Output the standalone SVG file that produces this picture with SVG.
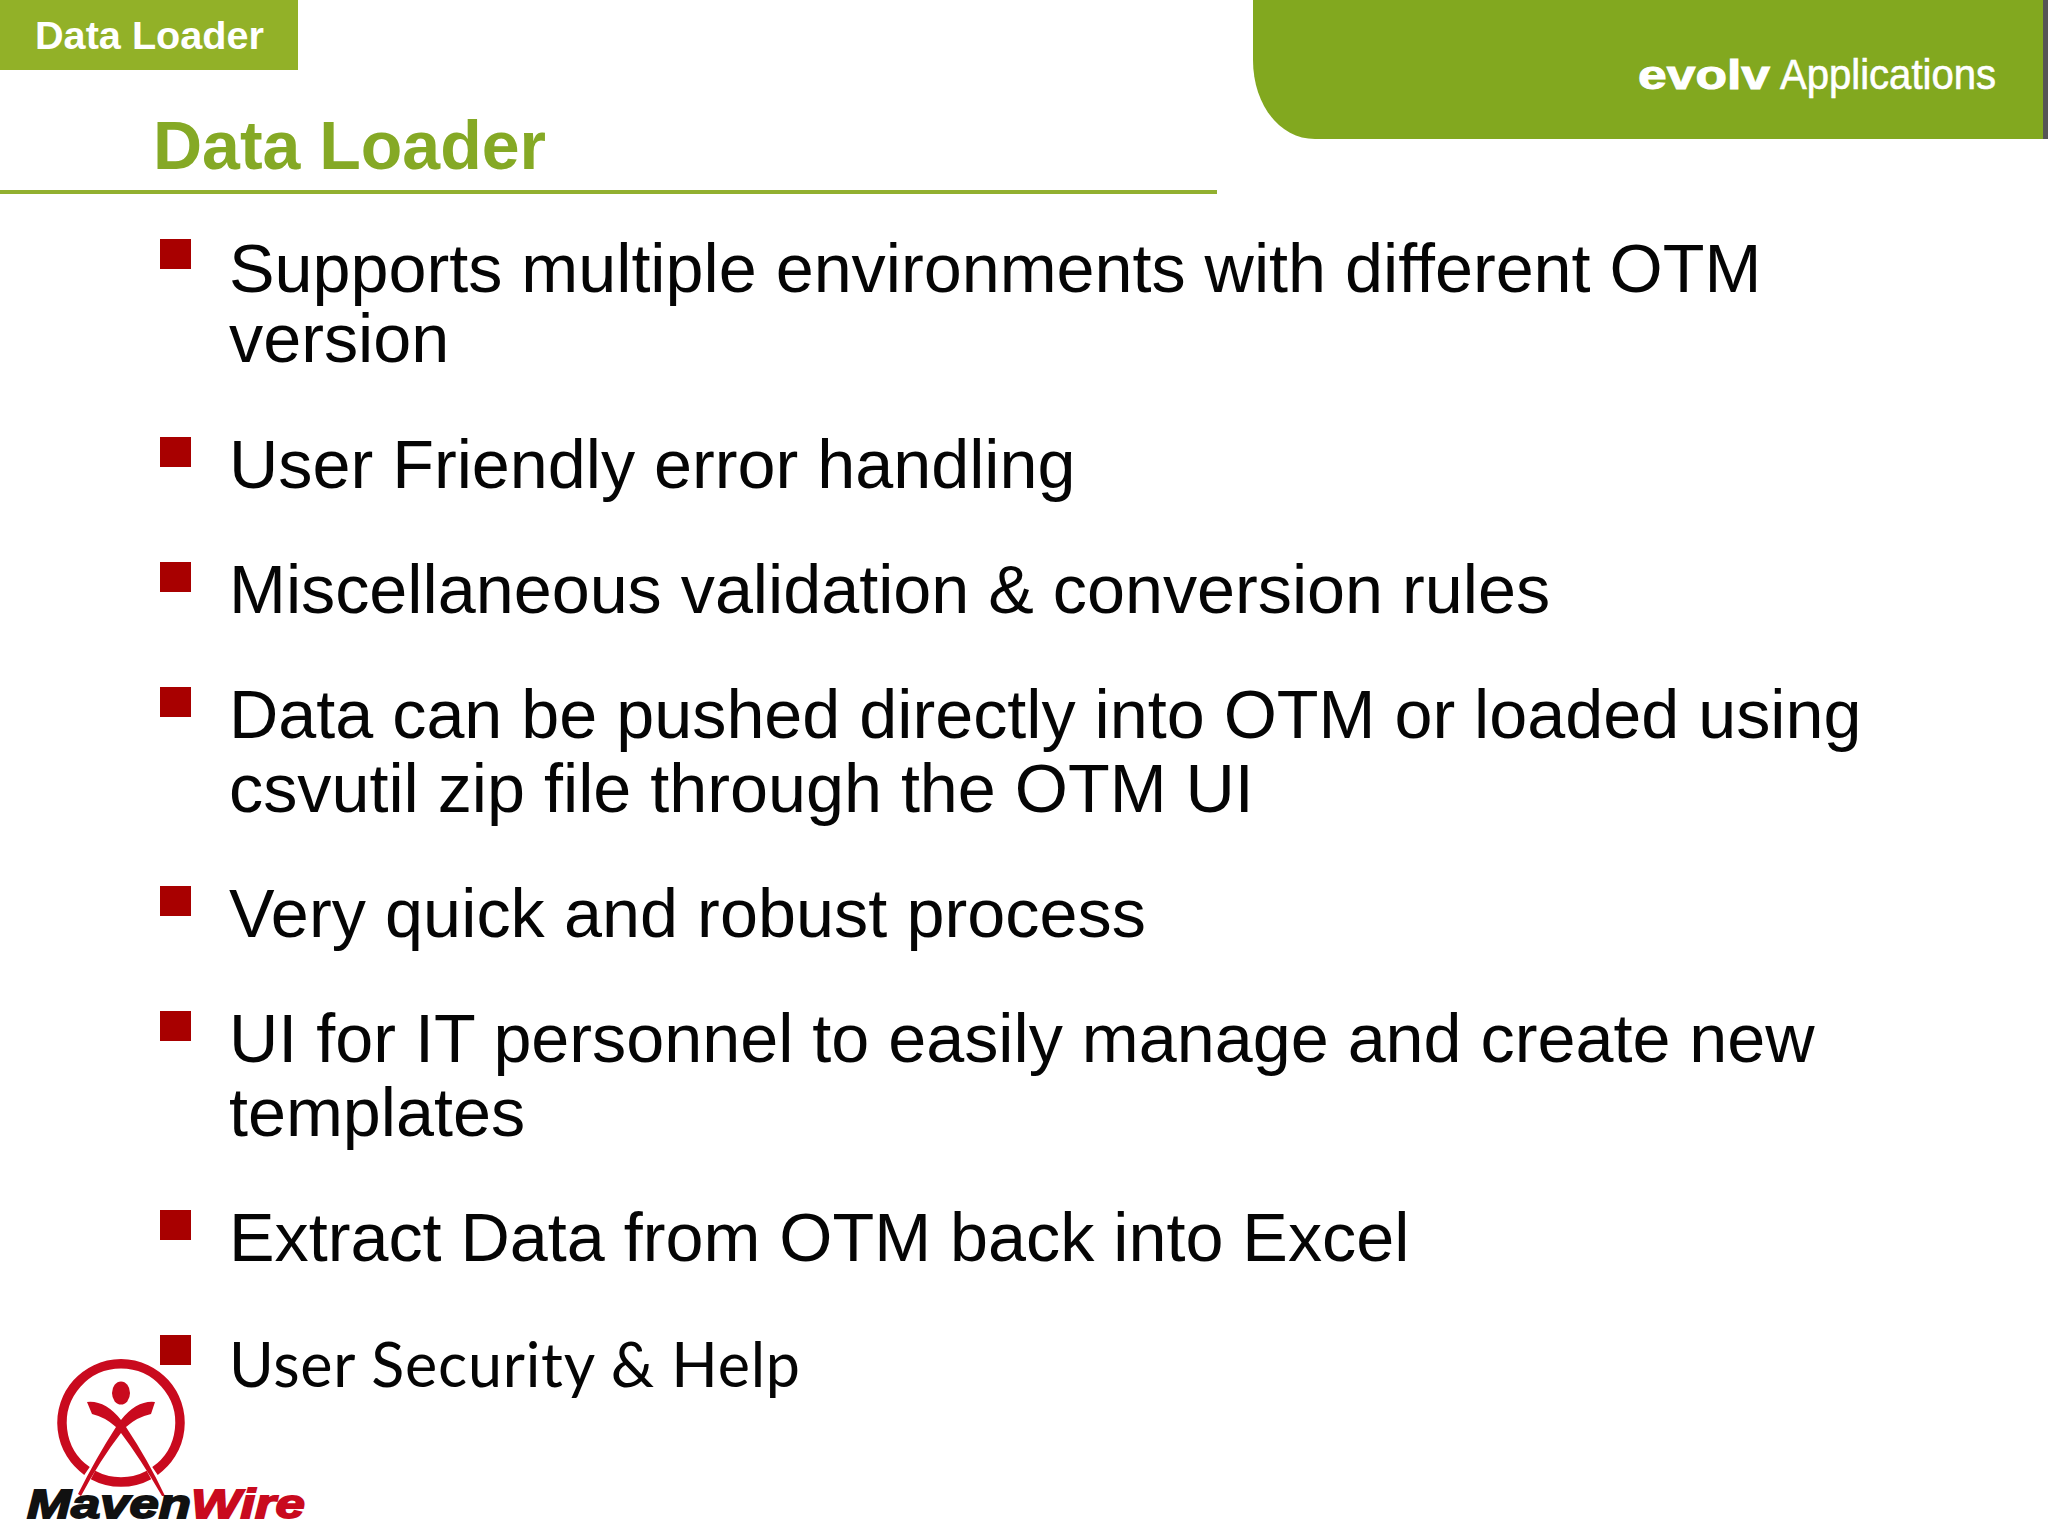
<svg xmlns="http://www.w3.org/2000/svg" width="2048" height="1536" viewBox="0 0 2048 1536">
<style>
.b{font-family:"Liberation Sans",Arial,sans-serif;font-size:68.3px;fill:#050505}
.sq{fill:#a80000}
.r{fill:#c90a1e}
.lg{font-family:"Liberation Sans",Arial,sans-serif;font-weight:bold;font-style:italic;font-size:41px;stroke-width:1.8px}
</style>
<rect width="2048" height="1536" fill="#fff"/>
<g id="tab"><rect width="298" height="70" fill="#92b128"/>
<text x="35" y="49" font-family="'Liberation Sans',Arial,sans-serif" font-weight="bold" font-size="38" fill="#fff" textLength="229" lengthAdjust="spacingAndGlyphs">Data Loader</text></g>
<g id="banner"><path d="M1253 0H2043V139H1315C1280 139 1253 105 1253 60Z" fill="#82a81f"/>
<rect x="2043" width="5" height="139" fill="#555"/>
<text x="1638" y="89" font-family="'Liberation Sans',Arial,sans-serif" font-weight="bold" font-size="40" fill="#fff" stroke="#fff" stroke-width="1" textLength="132" lengthAdjust="spacingAndGlyphs">evolv</text>
<text x="1780" y="89" font-family="'Liberation Sans',Arial,sans-serif" font-size="42" fill="#fff" stroke="#fff" stroke-width=".6" textLength="216" lengthAdjust="spacingAndGlyphs">Applications</text></g>
<g id="title"><text x="153" y="169" font-family="'Liberation Sans',Arial,sans-serif" font-weight="bold" font-size="68" fill="#85a925">Data Loader</text>
<rect y="190" width="1217" height="4" fill="#92b030"/></g>
<g id="bullets">
<rect class="sq" x="160" y="239" width="31" height="30"/>
<text class="b" x="229" y="292">Supports multiple environments with different OTM</text>
<text class="b" x="229" y="362">version</text>
<rect class="sq" x="160" y="437" width="31" height="30"/>
<text class="b" x="229" y="488">User Friendly error handling</text>
<rect class="sq" x="160" y="562" width="31" height="30"/>
<text class="b" x="229" y="613">Miscellaneous validation &amp; conversion rules</text>
<rect class="sq" x="160" y="687" width="31" height="30"/>
<text class="b" x="229" y="738">Data can be pushed directly into OTM or loaded using</text>
<text class="b" x="229" y="812">csvutil zip file through the OTM UI</text>
<rect class="sq" x="160" y="886" width="31" height="30"/>
<text class="b" x="229" y="937" textLength="917">Very quick and robust process</text>
<rect class="sq" x="160" y="1011" width="31" height="30"/>
<text class="b" x="229" y="1062">UI for IT personnel to easily manage and create new</text>
<text class="b" x="229" y="1136">templates</text>
<rect class="sq" x="160" y="1210" width="31" height="30"/>
<text class="b" x="229" y="1261">Extract Data from OTM back into Excel</text>
<rect class="sq" x="160" y="1335" width="31" height="30"/>
<text x="229" y="1387" font-family="Lato,'Liberation Sans',sans-serif" font-size="61" fill="#050505" textLength="571">User Security &amp; Help</text>
</g>
<g id="logo">
<path d="M87 1471A59 59 0 1 1 155 1471" fill="none" stroke="#c90a1e" stroke-width="9.5"/>
<path d="M93 1475A59 59 0 0 0 149 1475" fill="none" stroke="#c90a1e" stroke-width="9.5"/>
<ellipse class="r" cx="121" cy="1393" rx="9" ry="11.5"/>
<path class="r" d="M87 1402Q105 1400 121 1420Q137 1400 155 1402L151 1414Q137 1417 126 1427Q148 1460 165 1496L162 1496Q140 1458 121 1433Q100 1460 81 1496L78 1494Q96 1458 116 1427Q105 1417 92 1414Z"/>
<text class="lg" x="27" y="1518" fill="#111" stroke="#111" textLength="164" lengthAdjust="spacingAndGlyphs">Maven</text>
<text class="lg" x="191" y="1518" fill="#c90a1e" stroke="#c90a1e" textLength="114" lengthAdjust="spacingAndGlyphs">Wire</text>
</g>
</svg>
